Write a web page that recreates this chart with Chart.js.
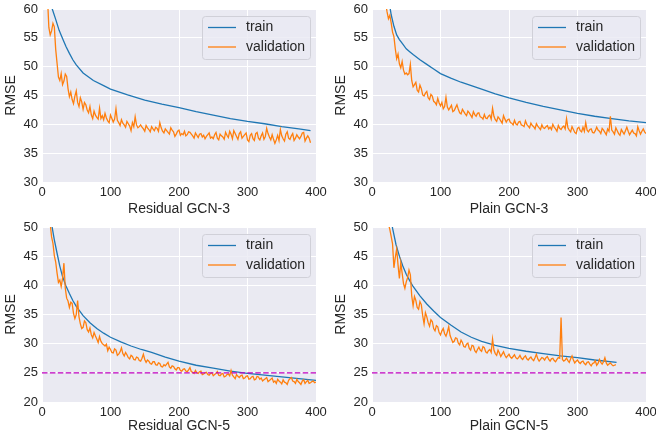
<!DOCTYPE html>
<html>
<head>
<meta charset="utf-8">
<script src="https://cdn.jsdelivr.net/npm/chart.js@4.4.0/dist/chart.umd.min.js"></script>
<style>
body{margin:0;background:#fff;width:656px;height:437px;position:relative;overflow:hidden}
.box{position:absolute}
</style>
</head>
<body>
<div class="box" style="left:0;top:0;width:330px;height:220px"><canvas id="c1"></canvas></div>
<div class="box" style="left:330px;top:0;width:326px;height:220px"><canvas id="c2"></canvas></div>
<div class="box" style="left:0;top:218px;width:330px;height:219px"><canvas id="c3"></canvas></div>
<div class="box" style="left:330px;top:218px;width:326px;height:219px"><canvas id="c4"></canvas></div>
<script>
// ---- data ----
var xTicks = [0, 100, 200, 300, 400];
var topYTicks = [30, 35, 40, 45, 50, 55, 60];
var bottomYTicks = [20, 25, 30, 35, 40, 45, 50];
var seriesNames = ['train', 'validation'];
var valStep = 2; // validation read every 2 epochs

// Residual GCN-3
var resGcn3TrainEpochs = [10, 15, 20, 25, 30, 35, 40, 45, 50, 60, 75, 90, 100, 125, 150, 175, 200, 225, 250, 275, 300, 325, 350, 375, 392];
var resGcn3Train = [63, 60, 58.2, 56.3, 54.9, 53.5, 52.3, 51.2, 50.3, 48.9, 47.6, 46.7, 46.1, 45.1, 44.2, 43.5, 42.9, 42.2, 41.6, 41.0, 40.5, 40.1, 39.6, 39.2, 38.9];
var resGcn3ValStart = 8;
var resGcn3Val = [
  62, 56.8, 55.5, 56.2, 57.5, 56.9, 53, 50.6, 48.2, 47.6, 48.8, 46.9, 47.5, 48.7, 48.3, 46.2, 44.8, 45.6, 44.3, 43.6,
  44.9, 45.8, 43.8, 43.1, 44.6, 43.9, 42.6, 43.8, 43.4, 42.5, 42.0, 43.1, 41.6, 41.0, 42.3, 41.6, 41.2, 40.9, 42.8, 41.0,
  41.5, 40.8, 41.9, 41.1, 40.6, 40.3, 41.6, 41.0, 40.4, 40.9, 42.7, 40.7, 40.3, 39.8, 40.8, 40.2, 39.9, 39.5, 40.5, 40.1,
  39.7, 38.9, 40.3, 39.6, 41.3, 39.9, 39.4, 39.6, 39.9, 39.5, 39.2, 38.8, 39.8, 39.4, 39.1, 38.7, 39.6, 39.2, 38.9, 39.5,
  39.3, 38.8, 40.3, 39.4, 38.8, 38.5, 39.2, 38.9, 38.6, 38.3, 39.4, 39.0, 38.7, 37.9, 38.3, 38.8, 39.0, 38.1, 38.4, 38.2,
  38.8, 38.0, 38.2, 38.7, 38.6, 38.3, 38.0, 37.6, 38.5, 38.1, 37.7, 38.3, 38.4, 37.8, 38.1, 37.5, 37.9, 38.2, 38.5, 37.6,
  37.8, 37.5, 38.2, 38.6, 37.6, 37.3, 38.3, 38.0, 37.8, 37.4, 38.6, 38.1, 37.7, 38.8, 38.3, 37.5, 38.9, 38.4, 37.9, 37.4,
  38.4, 38.7, 37.6, 37.9, 38.2, 38.5, 37.3, 37.0, 38.1, 38.4, 37.5, 37.2, 38.4, 38.6, 37.6, 37.3, 38.0, 38.5, 37.4, 37.9,
  39.3, 38.4, 37.8, 37.3, 38.2, 37.4, 36.7, 37.3, 38.1, 37.2, 39.1, 38.0, 37.5, 37.1, 38.3, 38.7, 37.6, 37.4, 38.0, 38.4,
  37.2, 37.6, 38.2, 37.8, 37.5, 37.9, 38.5, 38.6, 37.1, 37.6, 38.0, 37.6, 36.8];

// Plain GCN-3
var plainGcn3TrainEpochs = [20, 25, 28, 32, 36, 40, 45, 50, 55, 60, 70, 80, 90, 100, 115, 130, 145, 160, 180, 200, 225, 250, 275, 300, 325, 350, 375, 400];
var plainGcn3Train = [66, 61.2, 59, 57.0, 55.5, 54.7, 53.9, 53.1, 52.6, 52.1, 51.2, 50.4, 49.6, 48.8, 48.0, 47.3, 46.7, 46.1, 45.3, 44.6, 43.8, 43.1, 42.5, 41.9, 41.4, 41.0, 40.6, 40.3];
var plainGcn3ValStart = 20;
var plainGcn3Val = [
  61, 59.5, 58.3, 58.9, 57.6, 56.0, 55.2, 53.1, 51.4, 52.2, 50.5, 49.8, 50.9, 49.4, 48.7, 48.9, 48.6, 48.8, 50.4, 47.6,
  46.5, 46.9, 47.3, 45.9, 45.6, 46.8, 46.2, 45.1, 44.9, 45.4, 45.7, 44.6, 44.3, 45.2, 44.9, 44.0, 43.8, 43.4, 44.5, 43.7,
  43.2, 43.8, 42.7, 43.1, 44.7, 43.0, 42.5, 42.9, 43.3, 42.2, 42.4, 42.9, 43.4, 42.6, 42.0, 41.8, 42.6, 42.2, 41.8, 41.5,
  42.3, 42.0, 41.6, 41.2, 42.2, 41.7, 41.4, 41.9, 42.0, 41.3, 41.2, 40.9, 41.7, 41.1, 41.0, 41.4, 41.6, 40.9, 42.8, 41.4,
  40.8, 40.5, 41.3, 41.0, 40.6, 40.2, 41.5, 40.9, 40.4, 40.8, 40.9, 40.3, 40.2, 39.9, 40.7, 40.1, 39.9, 40.4, 40.5, 39.9,
  39.8, 39.6, 40.6, 40.0, 39.7, 39.4, 40.2, 39.8, 39.6, 39.2, 40.1, 39.7, 39.4, 39.1, 39.9, 39.4, 39.3, 39.6, 39.8, 39.2,
  39.5, 39.1, 40.0, 39.5, 39.2, 38.8, 39.8, 39.3, 39.1, 39.5, 39.7, 39.2, 41.0, 39.4, 39.0, 38.7, 39.6, 39.1, 38.6, 38.4,
  39.3, 39.5, 38.9, 38.7, 39.5, 38.8, 40.3, 39.0, 38.7, 39.1, 39.2, 38.6, 38.5, 38.9, 39.5, 39.0, 38.8, 38.4, 39.3, 39.0,
  38.6, 38.2, 39.2, 38.8, 41.4, 39.0, 38.7, 38.3, 39.4, 38.9, 38.4, 38.1, 39.1, 38.7, 38.3, 38.9, 39.5, 38.8, 38.2, 38.6,
  39.0, 38.5, 38.4, 38.0, 39.6, 38.9, 38.3, 38.8, 39.2, 38.7, 38.4];

// Residual GCN-5
var resGcn5TrainEpochs = [10, 14, 18, 22, 26, 30, 35, 40, 45, 50, 60, 70, 80, 90, 100, 115, 130, 145, 160, 180, 200, 225, 250, 275, 300, 325, 350, 375, 400];
var resGcn5Train = [54, 50.5, 47.8, 45.5, 43.3, 41.5, 39.9, 38.6, 37.4, 36.4, 34.8, 33.6, 32.6, 31.8, 31.1, 30.3, 29.6, 29.0, 28.5, 27.7, 27.0, 26.3, 25.8, 25.3, 24.9, 24.6, 24.3, 24.0, 23.7];
var resGcn5ValStart = 12;
var resGcn5Val = [
  50.5, 48.3, 47.2, 45.1, 44.0, 42.1, 40.5, 40.9, 39.8, 41.2, 43.8, 39.5, 37.8, 37.3, 36.2, 37.1, 36.9, 35.2, 34.3, 35.0,
  37.4, 34.6, 33.4, 32.6, 32.8, 33.9, 33.6, 32.4, 32.0, 32.7, 31.5, 31.0, 31.9, 31.3, 30.8, 30.2, 31.2, 30.4, 30.0, 29.8,
  29.6, 29.9, 28.8, 29.4, 29.0, 28.5, 28.4, 29.1, 28.9, 28.0, 28.2, 28.6, 29.3, 28.3, 27.9, 28.5, 28.1, 27.6, 27.4, 28.0,
  27.8, 27.3, 27.2, 27.7, 27.6, 27.1, 27.0, 27.5, 28.2, 27.3, 26.8, 27.2, 27.0, 26.6, 26.5, 26.9, 26.9, 26.4, 26.3, 26.7,
  26.6, 26.1, 26.0, 26.4, 26.2, 26.5, 26.8, 26.0, 25.8, 26.2, 26.1, 25.7, 25.5, 25.9, 25.9, 25.4, 25.3, 25.6, 25.7, 25.3,
  25.2, 25.5, 25.9, 25.2, 25.1, 24.9, 25.4, 25.0, 24.9, 25.2, 25.3, 24.7, 24.8, 25.0, 25.1, 24.7, 24.6, 24.9, 25.0, 24.5,
  24.7, 24.9, 25.2, 24.6, 24.5, 24.8, 24.9, 24.3, 24.4, 24.7, 24.8, 24.5, 25.4, 24.6, 24.3, 24.0, 24.7, 24.4, 24.2, 24.5,
  24.6, 24.0, 24.1, 24.4, 24.5, 23.9, 24.0, 24.3, 24.4, 23.8, 23.9, 24.4, 24.3, 23.9, 24.1, 23.6, 23.8, 24.0, 24.2, 23.5,
  23.7, 23.9, 24.1, 23.4, 23.6, 23.2, 23.9, 23.6, 23.4, 23.1, 23.8, 23.4, 23.3, 23.0, 23.7, 24.0, 24.2, 23.6, 23.5, 23.2,
  23.9, 23.5, 23.3, 23.0, 23.6, 23.8, 23.2, 23.5, 23.7, 23.2, 23.3, 23.5, 23.6, 23.3, 23.4];

// Plain GCN-5
var plainGcn5TrainEpochs = [20, 25, 30, 35, 40, 45, 50, 55, 60, 70, 80, 90, 100, 115, 130, 145, 160, 180, 200, 225, 250, 275, 300, 325, 357];
var plainGcn5Train = [58, 54, 49.8, 47, 45.0, 43.3, 41.9, 40.8, 39.8, 38.2, 36.8, 35.6, 34.5, 33.2, 32.0, 31.1, 30.4, 29.7, 29.2, 28.7, 28.3, 27.9, 27.6, 27.2, 26.8];
var plainGcn5ValStart = 24;
var plainGcn5Val = [
  50.5, 49.6, 48.4, 47.1, 43.0, 44.8, 46.2, 43.5, 41.2, 43.9, 42.1, 40.3, 39.5, 40.6, 41.3, 42.6, 41.8, 38.2, 36.5, 38.1,
  37.4, 36.2, 35.9, 37.2, 36.7, 34.8, 33.4, 35.3, 34.6, 33.6, 33.0, 34.1, 33.8, 32.6, 32.2, 33.1, 32.9, 31.9, 31.5, 32.2,
  32.6, 31.7, 31.3, 32.0, 32.9, 31.4, 30.8, 30.2, 30.4, 31.0, 30.9, 30.1, 29.8, 30.6, 30.2, 29.5, 29.4, 29.9, 30.1, 29.2,
  28.9, 29.7, 29.6, 28.8, 28.5, 29.0, 29.4, 28.9, 28.7, 29.5, 29.3, 28.6, 28.4, 28.8, 29.0, 28.5, 30.8, 28.9, 28.3, 28.0,
  28.9, 28.4, 27.8, 28.2, 28.6, 28.0, 27.6, 27.9, 28.2, 27.7, 27.5, 27.8, 28.1, 27.6, 27.4, 27.6, 28.0, 27.5, 27.3, 27.7,
  27.9, 27.4, 27.2, 27.5, 27.7, 27.3, 27.1, 27.6, 28.2, 27.4, 27.0, 27.3, 27.6, 27.5, 27.2, 27.6, 27.8, 27.3, 27.0, 27.4,
  27.5, 27.1, 26.9, 27.3, 27.6, 27.5, 34.5, 27.3, 27.0, 27.2, 27.5, 27.1, 26.8, 27.4, 27.9, 27.2, 26.7, 27.0, 27.2, 26.8,
  26.6, 26.9, 27.0, 26.6, 26.4, 26.8, 26.9, 26.5, 26.2, 26.6, 26.7, 27.1, 26.3, 26.6, 27.3, 26.8, 26.5, 26.9, 27.6, 26.7,
  26.3, 26.5, 26.7, 26.4, 26.2, 26.3, 26.4];

var targetEpochs = [0, 400];
var targetRmse = [25, 25];

// ---- helpers ----
function toPts(xs, ys) {
    return ys.map(function (v, i) { return {x: xs[i], y: v}; });
}
function valPts(start, ys) {
    return ys.map(function (v, i) { return {x: start + valStep * i, y: v}; });
}

var bgPlugin = {
    id: 'bg',
    beforeDraw: function (chart) {
        var a = chart.chartArea, c = chart.ctx;
        c.save();
        c.fillStyle = '#EAEAF2';
        c.fillRect(a.left, a.top, a.right - a.left, a.bottom - a.top);
        c.restore();
    }
};

var legendPlugin = {
    id: 'boxLegend',
    afterDraw: function (chart) {
        var a = chart.chartArea, c = chart.ctx;
        var w = 108, h = 43;
        var x0 = a.right - 6 - w, y0 = a.top + 7;
        c.save();
        c.beginPath();
        c.roundRect(x0 + 0.5, y0 + 0.5, w, h, 3);
        c.fillStyle = 'rgba(234,234,242,0.8)';
        c.fill();
        c.strokeStyle = '#d0d0d8';
        c.lineWidth = 1;
        c.stroke();
        c.font = '14px "Liberation Sans", Arial, sans-serif';
        c.textBaseline = 'middle';
        c.fillStyle = '#262626';
        var rows = [y0 + 11.5, y0 + 31];
        for (var i = 0; i < 2; i++) {
            var ds = chart.data.datasets[i];
            c.beginPath();
            c.moveTo(x0 + 6, rows[i]);
            c.lineTo(x0 + 34, rows[i]);
            c.strokeStyle = ds.borderColor;
            c.lineWidth = 1.3;
            c.stroke();
            c.fillText(ds.label, x0 + 44, rows[i]);
        }
        c.restore();
    }
};

var tickFont = {family: '"Liberation Sans", Arial, sans-serif', size: 13};
var titleFont = {family: '"Liberation Sans", Arial, sans-serif', size: 14};

function makeChart(id, title, yTicks, trainE, trainV, valStart, valV, withTarget, rightPad, xAxisH) {
    var datasets = [
        {label: seriesNames[0], data: toPts(trainE, trainV), borderColor: '#1f77b4', borderWidth: 1.3, order: 1},
        {label: seriesNames[1], data: valPts(valStart, valV), borderColor: '#ff7f0e', borderWidth: 1.3, order: 0}
    ];
    if (withTarget) {
        datasets.push({label: '', data: toPts(targetEpochs, targetRmse), borderColor: '#bf00bf',
            borderWidth: 1.3, borderDash: [5.5, 2.4], order: -1});
    }
    return new Chart(document.getElementById(id), {
        type: 'line',
        data: {datasets: datasets},
        options: {
            responsive: true,
            maintainAspectRatio: false,
            animation: false,
            events: [],
            layout: {padding: {top: 9, right: rightPad, left: 0, bottom: 0}},
            elements: {point: {radius: 0}, line: {tension: 0}},
            plugins: {legend: {display: false}, tooltip: {enabled: false}},
            scales: {
                x: {
                    type: 'linear',
                    min: xTicks[0], max: xTicks[xTicks.length - 1],
                    afterBuildTicks: function (s) { s.ticks = xTicks.map(function (v) { return {value: v}; }); },
                    afterFit: function (s) { s.height = xAxisH; s.paddingLeft = 0; s.paddingRight = 0; },
                    grid: {color: '#ffffff', lineWidth: 1, drawTicks: false},
                    border: {display: false},
                    ticks: {color: '#262626', font: tickFont, padding: 3, maxRotation: 0},
                    title: {display: true, text: title, color: '#262626', font: titleFont, padding: {top: 0, bottom: 2}}
                },
                y: {
                    min: yTicks[0], max: yTicks[yTicks.length - 1],
                    afterBuildTicks: function (s) { s.ticks = yTicks.map(function (v) { return {value: v}; }); },
                    afterFit: function (s) { s.width = 42; s.paddingTop = 0; s.paddingBottom = 0; },
                    grid: {color: '#ffffff', lineWidth: 1, drawTicks: false},
                    border: {display: false},
                    ticks: {color: '#262626', font: tickFont, padding: 4},
                    title: {display: true, text: 'RMSE', color: '#262626', font: titleFont, padding: {top: 3, bottom: 0}}
                }
            }
        },
        plugins: [bgPlugin, legendPlugin]
    });
}

makeChart('c1', 'Residual GCN-3', topYTicks, resGcn3TrainEpochs, resGcn3Train, resGcn3ValStart, resGcn3Val, false, 14, 38);
makeChart('c2', 'Plain GCN-3', topYTicks, plainGcn3TrainEpochs, plainGcn3Train, plainGcn3ValStart, plainGcn3Val, false, 10, 38);
makeChart('c3', 'Residual GCN-5', bottomYTicks, resGcn5TrainEpochs, resGcn5Train, resGcn5ValStart, resGcn5Val, true, 14, 35);
makeChart('c4', 'Plain GCN-5', bottomYTicks, plainGcn5TrainEpochs, plainGcn5Train, plainGcn5ValStart, plainGcn5Val, true, 10, 35);
</script>
</body>
</html>
